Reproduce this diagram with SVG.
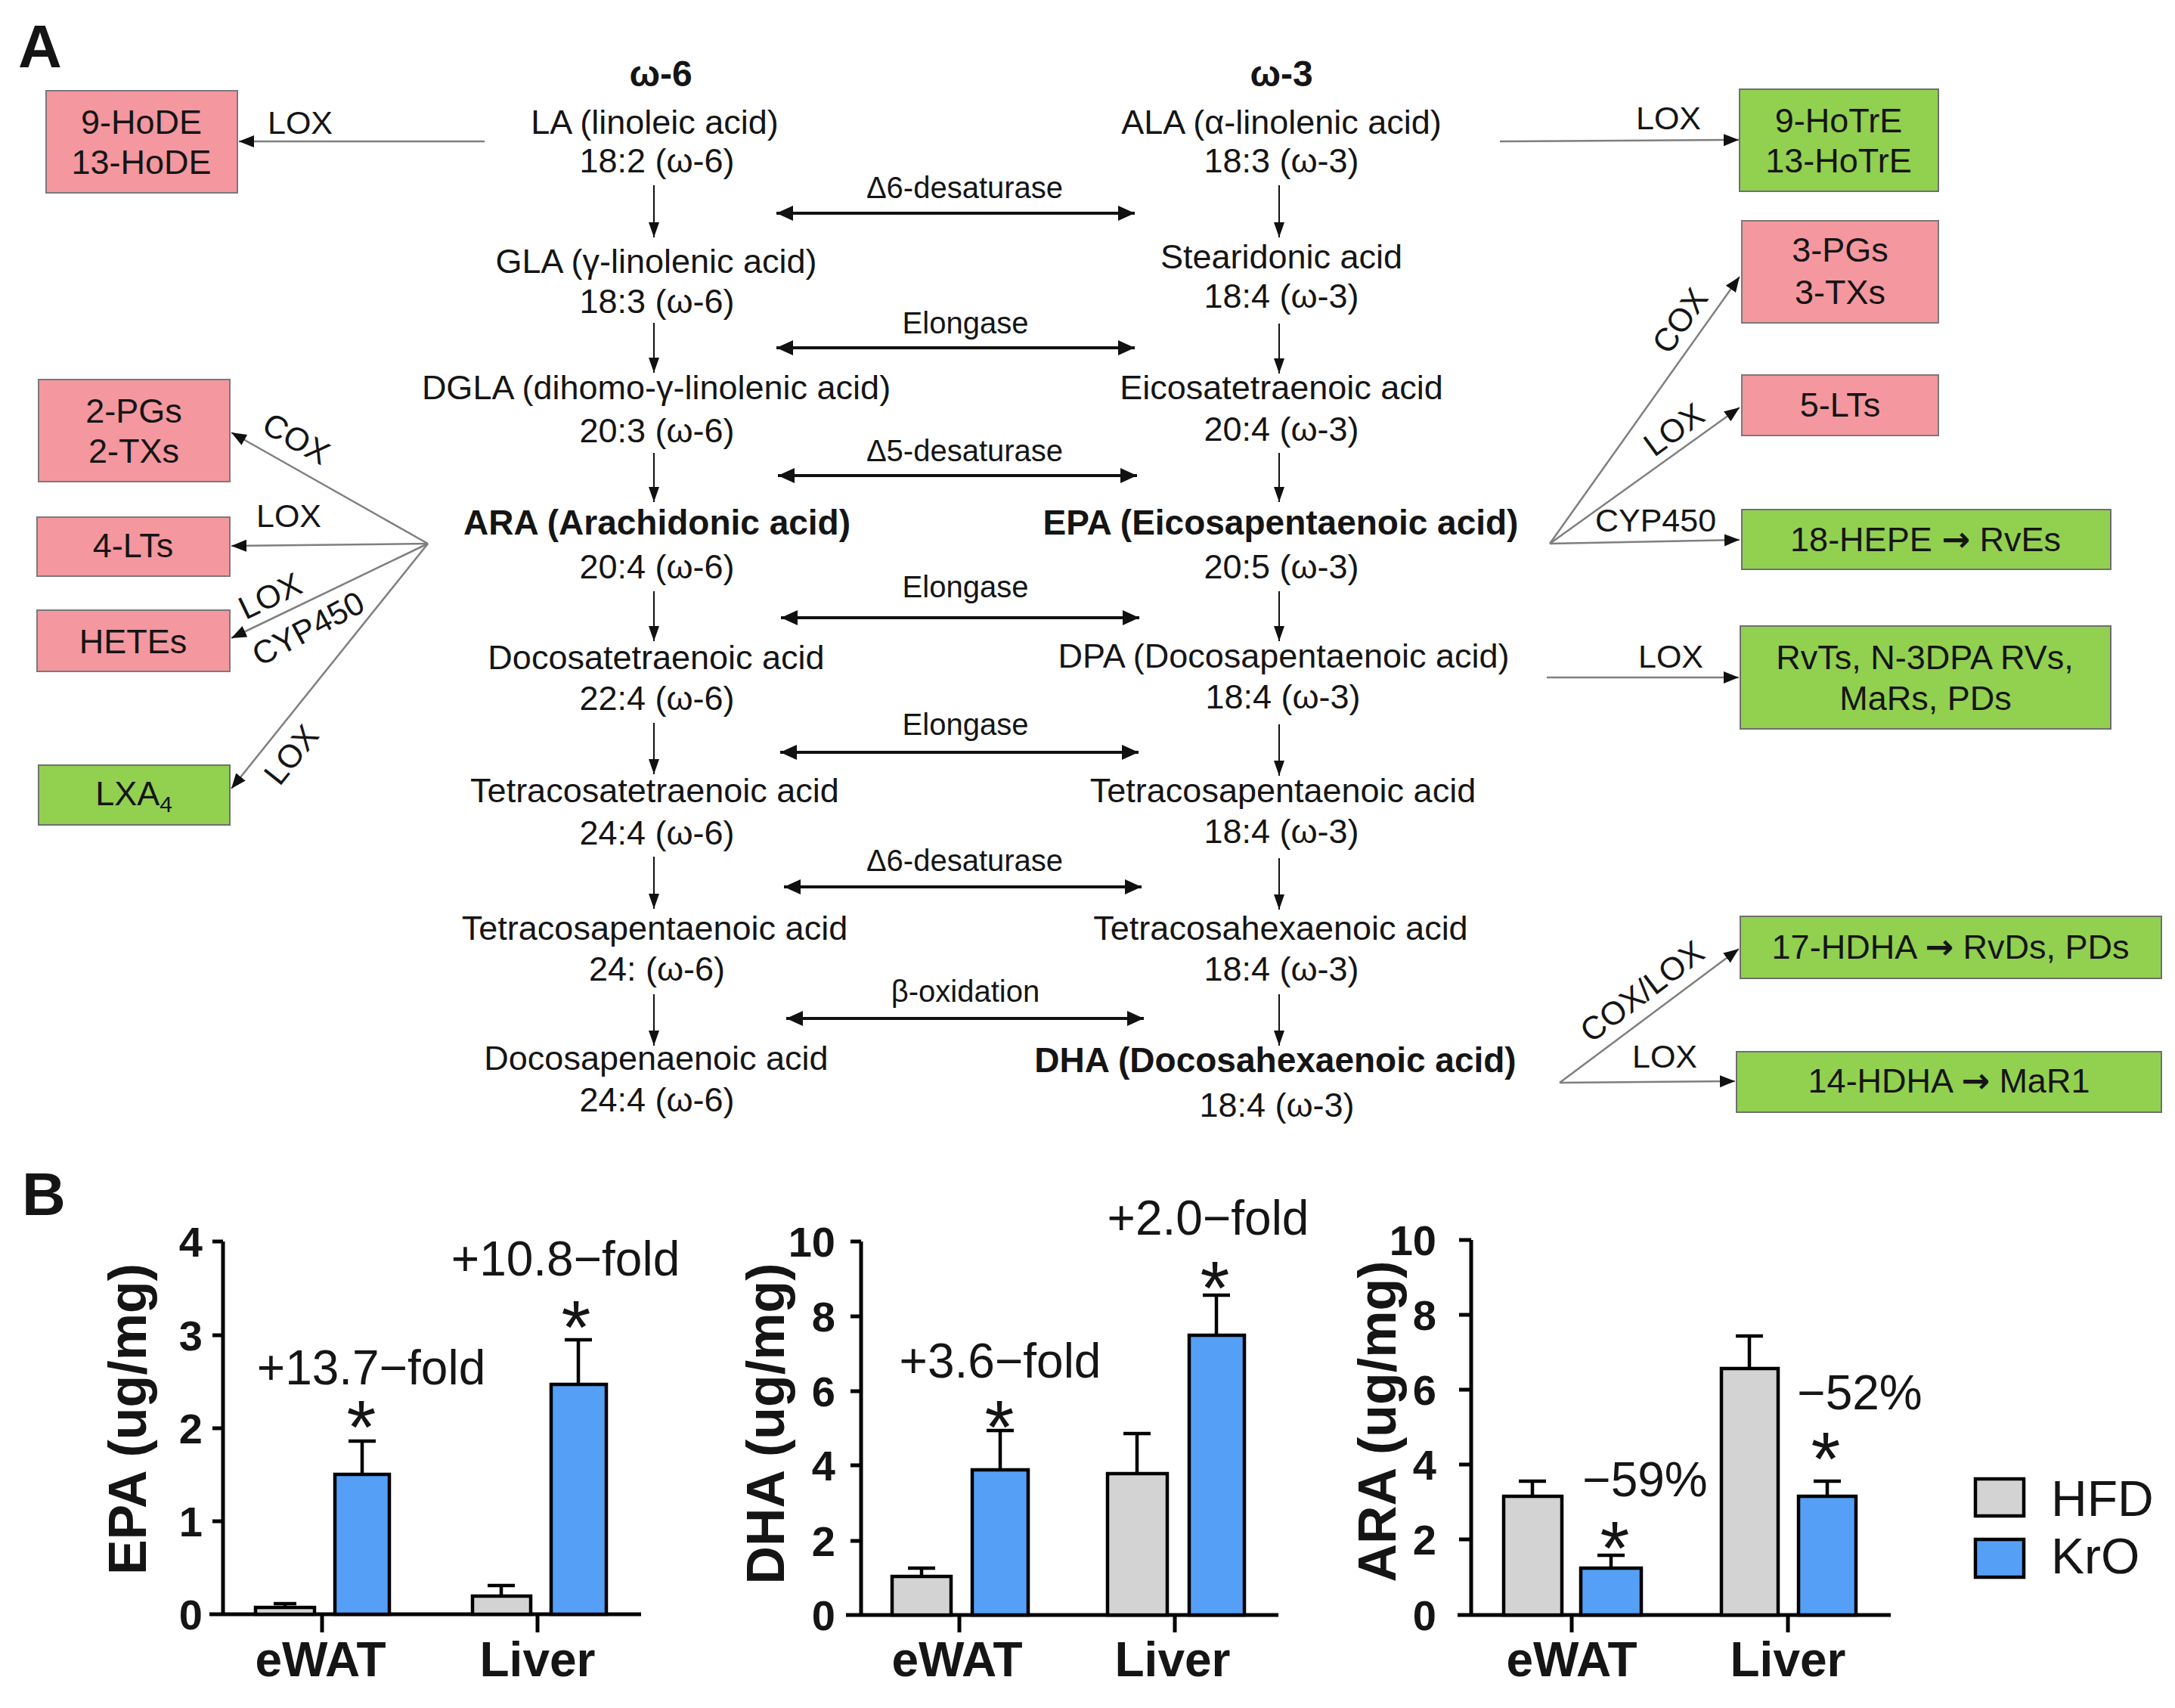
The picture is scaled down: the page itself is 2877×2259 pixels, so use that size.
<svg xmlns="http://www.w3.org/2000/svg" width="2877" height="2259" viewBox="0 0 2877 2259">
<style>
text{font-family:"Liberation Sans",Arial,sans-serif;fill:#151515}
.t{font-size:45px;text-anchor:middle}
.tb{font-size:46px;text-anchor:middle;font-weight:bold}
.h{font-size:48px;text-anchor:middle;font-weight:bold}
.enz{font-size:40px;text-anchor:middle}
.lab{font-size:43px;text-anchor:middle}
.pl{font-weight:bold;font-size:80px}
.arr{font-family:"DejaVu Sans",sans-serif;font-weight:bold}
.pink{fill:#F4979F;stroke:#7a7a7a;stroke-width:2}
.green{fill:#92D050;stroke:#6f6f6f;stroke-width:2}
.side{stroke:#7f7f7f;stroke-width:2.5;fill:none;marker-end:url(#ah)}
.vert{stroke:#111;stroke-width:2;fill:none;marker-end:url(#vh)}
.dbl{stroke:#111;stroke-width:4;fill:none;marker-start:url(#dh);marker-end:url(#dh)}
.ax{stroke:#000;stroke-width:5;fill:none}
.hfd{fill:#D3D3D3;stroke:#000;stroke-width:4.5}
.kro{fill:#559FF7;stroke:#000;stroke-width:4.5}
.err{stroke:#000;stroke-width:4.5;fill:none}
.tick{font-size:56px;font-weight:bold;text-anchor:end}
.xl{font-size:64px;font-weight:bold;text-anchor:middle}
.yt{font-size:70px;font-weight:bold;text-anchor:middle}
.ann{font-size:64px;text-anchor:middle}
.ast{font-size:100px;text-anchor:middle}
.leg{font-size:66px}
</style>
<defs>
<marker id="ah" markerUnits="userSpaceOnUse" markerWidth="22" markerHeight="18" refX="20" refY="8" orient="auto"><path d="M0,0 L20,8 L0,16 z" fill="#111"/></marker>
<marker id="vh" markerUnits="userSpaceOnUse" markerWidth="22" markerHeight="16" refX="20" refY="7" orient="auto"><path d="M0,0 L20,7 L0,14 z" fill="#111"/></marker>
<marker id="dh" markerUnits="userSpaceOnUse" markerWidth="26" markerHeight="22" refX="22" refY="10" orient="auto-start-reverse"><path d="M0,0 L22,10 L0,20 z" fill="#111"/></marker>
</defs>
<rect width="2877" height="2259" fill="#fff"/>

<text class="pl" x="24" y="89">A</text>
<text class="pl" x="29" y="1607" font-size="74">B</text>

<g id="headers">
<text class="h" x="874" y="114">ω-6</text>
<text class="h" x="1695" y="114">ω-3</text>
</g>

<g id="omega6">
<g id="n-LA"><text class="t" x="866" y="177">LA (linoleic acid)</text><text class="t" x="869" y="228">18:2 (ω-6)</text></g>
<g id="n-GLA"><text class="t" x="868" y="361">GLA (γ-linolenic acid)</text><text class="t" x="869" y="414">18:3 (ω-6)</text></g>
<g id="n-DGLA"><text class="t" x="868" y="528">DGLA (dihomo-γ-linolenic acid)</text><text class="t" x="869" y="585">20:3 (ω-6)</text></g>
<g id="n-ARA"><text class="tb" x="869" y="707">ARA (Arachidonic acid)</text><text class="t" x="869" y="765">20:4 (ω-6)</text></g>
<g id="n-DTA"><text class="t" x="868" y="885">Docosatetraenoic acid</text><text class="t" x="869" y="939">22:4 (ω-6)</text></g>
<g id="n-TTA"><text class="t" x="866" y="1061">Tetracosatetraenoic acid</text><text class="t" x="869" y="1117">24:4 (ω-6)</text></g>
<g id="n-TPA6"><text class="t" x="866" y="1243">Tetracosapentaenoic acid</text><text class="t" x="869" y="1297">24: (ω-6)</text></g>
<g id="n-DPA6"><text class="t" x="868" y="1415">Docosapenaenoic acid</text><text class="t" x="869" y="1470">24:4 (ω-6)</text></g>
</g>

<g id="omega3">
<g id="n-ALA"><text class="t" x="1695" y="177">ALA (α-linolenic acid)</text><text class="t" x="1695" y="228">18:3 (ω-3)</text></g>
<g id="n-SDA"><text class="t" x="1695" y="355">Stearidonic acid</text><text class="t" x="1695" y="407">18:4 (ω-3)</text></g>
<g id="n-ETA"><text class="t" x="1695" y="528">Eicosatetraenoic acid</text><text class="t" x="1695" y="583">20:4 (ω-3)</text></g>
<g id="n-EPA"><text class="tb" x="1694" y="707">EPA (Eicosapentaenoic acid)</text><text class="t" x="1695" y="765">20:5 (ω-3)</text></g>
<g id="n-DPA"><text class="t" x="1698" y="883">DPA (Docosapentaenoic acid)</text><text class="t" x="1697" y="937">18:4 (ω-3)</text></g>
<g id="n-TPA3"><text class="t" x="1697" y="1061">Tetracosapentaenoic acid</text><text class="t" x="1695" y="1115">18:4 (ω-3)</text></g>
<g id="n-THA"><text class="t" x="1694" y="1243">Tetracosahexaenoic acid</text><text class="t" x="1695" y="1297">18:4 (ω-3)</text></g>
<g id="n-DHA"><text class="tb" x="1687" y="1418">DHA (Docosahexaenoic acid)</text><text class="t" x="1689" y="1477">18:4 (ω-3)</text></g>
</g>

<g id="enzymes">
<text class="enz" x="1276" y="262">Δ6-desaturase</text>
<text class="enz" x="1277" y="441">Elongase</text>
<text class="enz" x="1276" y="610">Δ5-desaturase</text>
<text class="enz" x="1277" y="790">Elongase</text>
<text class="enz" x="1277" y="972">Elongase</text>
<text class="enz" x="1276" y="1152">Δ6-desaturase</text>
<text class="enz" x="1277" y="1325">β-oxidation</text>
</g>

<g id="n-HoDE"><rect class="pink" x="61" y="120" width="253" height="135"/><text class="t" x="187" y="177">9-HoDE</text><text class="t" x="187" y="230">13-HoDE</text></g>
<g id="n-2PG"><rect class="pink" x="51" y="502" width="253" height="135"/><text class="t" x="177" y="559">2-PGs</text><text class="t" x="177" y="612">2-TXs</text></g>
<g id="n-4LT"><rect class="pink" x="49" y="684" width="255" height="78"/><text class="t" x="176" y="737">4-LTs</text></g>
<g id="n-HETE"><rect class="pink" x="49" y="807" width="255" height="81"/><text class="t" x="176" y="864">HETEs</text></g>
<g id="n-LXA4"><rect class="green" x="51" y="1012" width="253" height="79"/><text class="t" x="177" y="1065">LXA<tspan font-size="30" dy="9">4</tspan></text></g>
<g id="n-HoTrE"><rect class="green" x="2301" y="118" width="263" height="135"/><text class="t" x="2432" y="175">9-HoTrE</text><text class="t" x="2432" y="228">13-HoTrE</text></g>
<g id="n-3PG"><rect class="pink" x="2304" y="292" width="260" height="135"/><text class="t" x="2434" y="346">3-PGs</text><text class="t" x="2434" y="402">3-TXs</text></g>
<g id="n-5LT"><rect class="pink" x="2304" y="496" width="260" height="80"/><text class="t" x="2434" y="551">5-LTs</text></g>
<g id="n-HEPE"><rect class="green" x="2304" y="674" width="488" height="79"/><text class="t" x="2547" y="729">18-HEPE <tspan class="arr">→</tspan> RvEs</text></g>
<g id="n-RvT"><rect class="green" x="2302" y="828" width="490" height="136"/><text class="t" x="2546" y="885">RvTs, N-3DPA RVs,</text><text class="t" x="2547" y="939">MaRs, PDs</text></g>
<g id="n-17HDHA"><rect class="green" x="2302" y="1212" width="557" height="82"/><text class="t" x="2580" y="1268">17-HDHA <tspan class="arr">→</tspan> RvDs, PDs</text></g>
<g id="n-14HDHA"><rect class="green" x="2297" y="1391" width="562" height="80"/><text class="t" x="2578" y="1445">14-HDHA <tspan class="arr">→</tspan> MaR1</text></g>

<g id="connectors">
<line class="vert" x1="865" y1="245" x2="865" y2="314"/>
<line class="vert" x1="865" y1="427" x2="865" y2="493"/>
<line class="vert" x1="865" y1="599" x2="865" y2="664"/>
<line class="vert" x1="865" y1="782" x2="865" y2="848"/>
<line class="vert" x1="865" y1="956" x2="865" y2="1024"/>
<line class="vert" x1="865" y1="1133" x2="865" y2="1202"/>
<line class="vert" x1="865" y1="1315" x2="865" y2="1383"/>
<line class="vert" x1="1692" y1="245" x2="1692" y2="314"/>
<line class="vert" x1="1692" y1="428" x2="1692" y2="494"/>
<line class="vert" x1="1692" y1="599" x2="1692" y2="664"/>
<line class="vert" x1="1692" y1="782" x2="1692" y2="848"/>
<line class="vert" x1="1692" y1="958" x2="1692" y2="1026"/>
<line class="vert" x1="1692" y1="1135" x2="1692" y2="1203"/>
<line class="vert" x1="1692" y1="1315" x2="1692" y2="1383"/>
<line class="dbl" x1="1027" y1="282" x2="1501" y2="282"/>
<line class="dbl" x1="1027" y1="460" x2="1501" y2="460"/>
<line class="dbl" x1="1029" y1="629" x2="1504" y2="629"/>
<line class="dbl" x1="1033" y1="817" x2="1507" y2="817"/>
<line class="dbl" x1="1032" y1="995" x2="1506" y2="995"/>
<line class="dbl" x1="1037" y1="1173" x2="1510" y2="1173"/>
<line class="dbl" x1="1040" y1="1347" x2="1513" y2="1347"/>
<line class="side" x1="641" y1="187" x2="316" y2="187"/>
<line class="side" x1="566" y1="719" x2="306" y2="572"/>
<line class="side" x1="566" y1="719" x2="306" y2="722"/>
<line class="side" x1="566" y1="719" x2="306" y2="844"/>
<line class="side" x1="566" y1="719" x2="306" y2="1043"/>
<line class="side" x1="1984" y1="187" x2="2300" y2="185"/>
<line class="side" x1="2050" y1="719" x2="2301" y2="366"/>
<line class="side" x1="2050" y1="719" x2="2301" y2="539"/>
<line class="side" x1="2050" y1="719" x2="2301" y2="714"/>
<line class="side" x1="2046" y1="896" x2="2300" y2="896"/>
<line class="side" x1="2063" y1="1432" x2="2300" y2="1255"/>
<line class="side" x1="2063" y1="1432" x2="2295" y2="1430"/>
<g id="connector-labels">
<text class="lab" x="397" y="177">LOX</text>
<text class="lab" transform="translate(392,580) rotate(29.5)" y="15">COX</text>
<text class="lab" x="382" y="697">LOX</text>
<text class="lab" transform="translate(357,788) rotate(-25.7)" y="15">LOX</text>
<text class="lab" transform="translate(408,832) rotate(-28)" y="14" font-size="40">CYP450</text>
<text class="lab" transform="translate(385,998) rotate(-51.3)" y="15">LOX</text>
<text class="lab" x="2207" y="171">LOX</text>
<text class="lab" transform="translate(2222,424) rotate(-54.8)" y="15">COX</text>
<text class="lab" transform="translate(2214,568) rotate(-35.9)" y="15">LOX</text>
<text class="lab" x="2190" y="703" font-size="40">CYP450</text>
<text class="lab" x="2210" y="883">LOX</text>
<text class="lab" transform="translate(2172,1311) rotate(-36.9)" y="15">COX/LOX</text>
<text class="lab" x="2202" y="1412">LOX</text>
</g>
</g>

<g id="chart-EPA">
<text class="yt" transform="translate(193,1877) rotate(-90)">EPA (ug/mg)</text>
<path class="ax" d="M295,1642 V2135 M277,2135 H848 M281,1642 H295 M281,1766 H295 M281,1889 H295 M281,2012 H295 M426,2135 V2159 M711,2135 V2159"/>
<text class="tick" x="268" y="1662">4</text>
<text class="tick" x="268" y="1786">3</text>
<text class="tick" x="268" y="1909">2</text>
<text class="tick" x="268" y="2032">1</text>
<text class="tick" x="268" y="2155">0</text>
<path class="err" d="M377,2126 V2121 M362,2121 H392 M479,1950 V1906 M461,1906 H497 M663,2111 V2097 M645,2097 H681 M765,1831 V1772 M747,1772 H783"/>
<rect class="hfd" x="338" y="2126" width="78" height="9"/>
<rect class="kro" x="443" y="1950" width="72" height="185"/>
<rect class="hfd" x="625" y="2111" width="77" height="24"/>
<rect class="kro" x="729" y="1831" width="73" height="304"/>
<text class="xl" x="424" y="2217">eWAT</text>
<text class="xl" x="711" y="2217">Liver</text>
<text class="ann" x="491" y="1831">+13.7−fold</text>
<text class="ast" x="478" y="1922">*</text>
<text class="ann" x="748" y="1687">+10.8−fold</text>
<text class="ast" x="762" y="1790">*</text>
</g>

<g id="chart-DHA">
<text class="yt" transform="translate(1037,1883) rotate(-90)">DHA (ug/mg)</text>
<path class="ax" d="M1139,1642 V2136 M1119,2136 H1691 M1125,1642 H1139 M1125,1741 H1139 M1125,1840 H1139 M1125,1938 H1139 M1125,2038 H1139 M1269,2136 V2159 M1554,2136 V2159"/>
<text class="tick" x="1105" y="1662">10</text>
<text class="tick" x="1105" y="1761">8</text>
<text class="tick" x="1105" y="1860">6</text>
<text class="tick" x="1105" y="1958">4</text>
<text class="tick" x="1105" y="2058">2</text>
<text class="tick" x="1105" y="2156">0</text>
<path class="err" d="M1219,2085 V2074 M1201,2074 H1237 M1323,1944 V1892 M1305,1892 H1341 M1504,1949 V1896 M1486,1896 H1522 M1609,1766 V1713 M1591,1713 H1627"/>
<rect class="hfd" x="1180" y="2085" width="78" height="51"/>
<rect class="kro" x="1286" y="1944" width="74" height="192"/>
<rect class="hfd" x="1465" y="1949" width="79" height="187"/>
<rect class="kro" x="1573" y="1766" width="73" height="370"/>
<text class="xl" x="1266" y="2217">eWAT</text>
<text class="xl" x="1551" y="2217">Liver</text>
<text class="ann" x="1323" y="1822">+3.6−fold</text>
<text class="ast" x="1322" y="1922">*</text>
<text class="ann" x="1598" y="1633">+2.0−fold</text>
<text class="ast" x="1607" y="1738">*</text>
</g>

<g id="chart-ARA">
<text class="yt" transform="translate(1846,1880) rotate(-90)">ARA (ug/mg)</text>
<path class="ax" d="M1946,1640 V2136 M1928,2136 H2501 M1930,1640 H1946 M1930,1739 H1946 M1930,1838 H1946 M1930,1937 H1946 M1930,2036 H1946 M2079,2136 V2159 M2365,2136 V2159"/>
<text class="tick" x="1900" y="1660">10</text>
<text class="tick" x="1900" y="1759">8</text>
<text class="tick" x="1900" y="1858">6</text>
<text class="tick" x="1900" y="1957">4</text>
<text class="tick" x="1900" y="2056">2</text>
<text class="tick" x="1900" y="2156">0</text>
<path class="err" d="M2027,1979 V1959 M2009,1959 H2045 M2131,2074 V2057 M2113,2057 H2149 M2314,1810 V1767 M2296,1767 H2332 M2417,1979 V1959 M2399,1959 H2435"/>
<rect class="hfd" x="1989" y="1979" width="77" height="157"/>
<rect class="kro" x="2091" y="2074" width="80" height="62"/>
<rect class="hfd" x="2277" y="1810" width="75" height="326"/>
<rect class="kro" x="2379" y="1979" width="76" height="157"/>
<text class="xl" x="2079" y="2217">eWAT</text>
<text class="xl" x="2365" y="2217">Liver</text>
<text class="ann" x="2176" y="1979">−59%</text>
<text class="ast" x="2136" y="2082">*</text>
<text class="ann" x="2460" y="1864">−52%</text>
<text class="ast" x="2415" y="1964">*</text>
</g>

<g id="legend">
<rect class="hfd" x="2613" y="1956" width="64" height="49"/>
<text class="leg" x="2713" y="2005">HFD</text>
<rect class="kro" x="2613" y="2036" width="64" height="50"/>
<text class="leg" x="2713" y="2081">KrO</text>
</g>
</svg>
